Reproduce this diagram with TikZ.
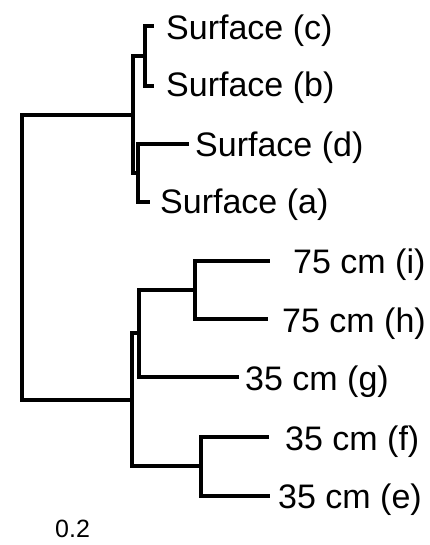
\documentclass[tikz,border=0pt]{standalone}
\usepackage{fontspec}
\setmainfont{Liberation Sans}
\begin{document}
\begin{tikzpicture}[x=1pt,y=-1pt,
  branch/.style={line width=3.3pt,line cap=rect},
  leaf/.style={anchor=base west,inner sep=0pt,font=\fontsize{34}{36}\selectfont},
  scalelabel/.style={anchor=base west,inner sep=0pt,font=\fontsize{25}{28}\selectfont}]
\useasboundingbox[fill=white] (0,0) rectangle (430,545);

% leaf labels
\node[leaf] (c) at (166,40)  {Surface (c)};
\node[leaf] (b) at (166,97)  {Surface (b)};
\node[leaf] (d) at (195,157) {Surface (d)};
\node[leaf] (a) at (160,213) {Surface (a)};
\node[leaf] (i) at (293,273) {75 cm (i)};
\node[leaf] (h) at (282,332) {75 cm (h)};
\node[leaf] (g) at (245,390) {35 cm (g)};
\node[leaf] (f) at (285,450) {35 cm (f)};
\node[leaf] (e) at (278,508) {35 cm (e)};
\node[scalelabel] (scale) at (55,537) {0.2};

% branch tips
\coordinate (tc) at (152,26);
\coordinate (tb) at (152,86);
\coordinate (td) at (187,144);
\coordinate (ta) at (148,202);
\coordinate (ti) at (268,261);
\coordinate (th) at (266,319);
\coordinate (tg) at (237,377);
\coordinate (tf) at (267,437);
\coordinate (te) at (268,496);

% internal vertices (x position of each vertical bar, y where it joins its parent)
\coordinate (root) at (22,115);
\coordinate (rootlo) at (22,400);
\coordinate (surf) at (133,115);
\coordinate (cb) at (145,56);
\coordinate (da) at (138,173);
\coordinate (depth) at (132,400);
\coordinate (ihg) at (139,333);
\coordinate (ih) at (195,290);
\coordinate (fe) at (201,466);

% root
\draw[branch] (surf) -- (root) -- (rootlo) -- (depth);
% surface cluster
\draw[branch] (surf |- cb) -- (surf |- da);
\draw[branch] (surf |- cb) -- (cb);
\draw[branch] (tc) -- (cb |- tc) -- (cb |- tb) -- (tb);
\draw[branch] (surf |- da) -- (da);
\draw[branch] (td) -- (da |- td) -- (da |- ta) -- (ta);
% depth cluster
\draw[branch] (depth |- ihg) -- (depth |- fe);
\draw[branch] (depth |- ihg) -- (ihg);
\draw[branch] (ih) -- (ihg |- ih) -- (ihg |- tg) -- (tg);
\draw[branch] (ti) -- (ih |- ti) -- (ih |- th) -- (th);
\draw[branch] (depth |- fe) -- (fe);
\draw[branch] (tf) -- (fe |- tf) -- (fe |- te) -- (te);
\end{tikzpicture}
\end{document}
